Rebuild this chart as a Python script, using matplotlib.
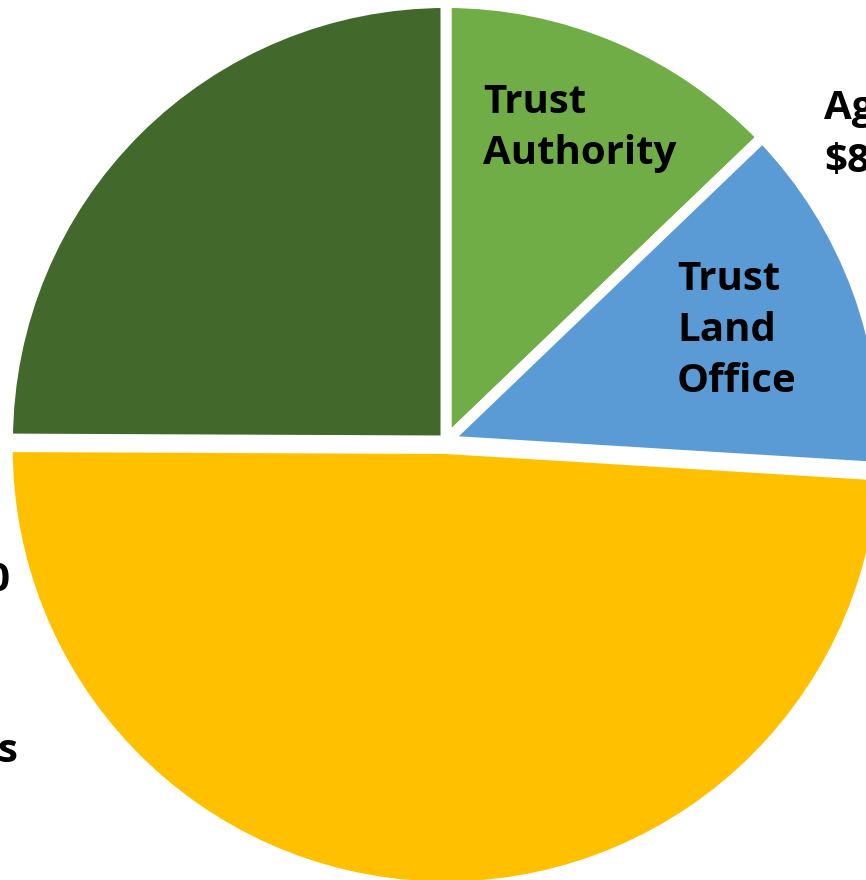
import matplotlib
matplotlib.use("Agg")
import matplotlib.pyplot as plt

# slice shares (percent), clockwise from 12 o'clock
slices = ["Trust Authority", "Trust Land Office", "Largest share", "Second share"]
shares = [12.83, 13.14, 49.10, 24.93]
colors = ["#70AD47", "#5B9BD5", "#FFC000", "#43682B"]

# in-slice labels, one entry per line: (text, x px, baseline px from top)
inner_lines = [
    ("Trust", 483, 113), ("Authority", 483, 164),
    ("Trust", 677, 290), ("Land", 677, 341), ("Office", 677, 392),
]
# outside labels cut off by the crop
outer_left = [("Ag", 824, 119), ("$8", 824, 172)]
outer_right = [("0", 9, 591), ("s", 17, 762)]

W, H = 866, 880
R = 438.5
fig = plt.figure(figsize=(W / 100, H / 100), dpi=100)
ax = fig.add_axes([0, 0, 1, 1])

# pie offsets explode in data units (pixels here), not in radius fractions
explode = [0, 0, 7.5, 0]
ax.pie(shares, colors=colors, explode=explode, startangle=90, counterclock=False,
       center=(446, H - 441), radius=R,
       wedgeprops=dict(edgecolor="white", linewidth=7.9))
ax.set_xlim(0, W)
ax.set_ylim(0, H)
ax.set_aspect("auto")
ax.axis("off")

font = dict(family=["Open Sans", "DejaVu Sans"], weight="bold", fontsize=29, color="black")
for txt, x, y in inner_lines + outer_left:
    ax.text(x, H - y, txt, ha="left", va="baseline", **font)
for txt, x, y in outer_right:
    ax.text(x, H - y, txt, ha="right", va="baseline", **font)

fig.savefig("out.png", dpi=100)
